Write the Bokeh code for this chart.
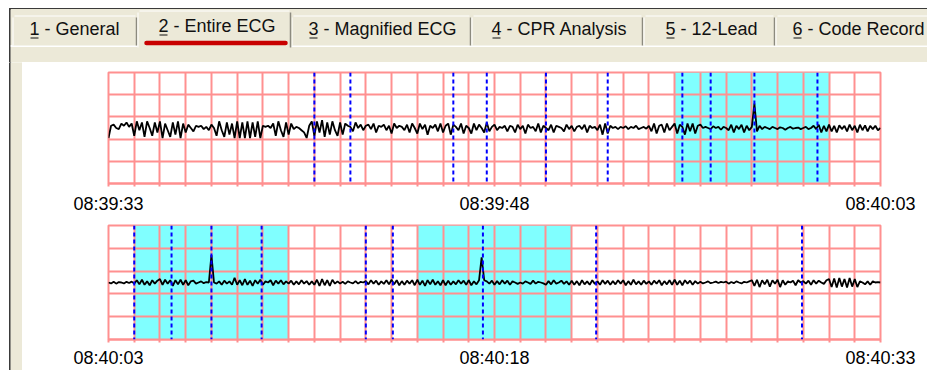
import numpy as np
from bokeh.plotting import figure
from bokeh.models import Range1d, FixedTicker, Span
from bokeh.layouts import column, row
from bokeh.embed import file_html
from bokeh.resources import INLINE
from bokeh.core.properties import value

# ---------------- data ----------------
tab_labels = ["1 - General", "2 - Entire ECG", "3 - Magnified ECG",
              "4 - CPR Analysis", "5 - 12-Lead", "6 - Code Record"]
active_tab = 1

tick_seconds = [0, 15, 30]
top_tick_labels = ["08:39:33", "08:39:48", "08:40:03"]
bottom_tick_labels = ["08:40:03", "08:40:18", "08:40:33"]
segment_seconds = 30
sample_rate = 10  # samples per second in the lists below

top_highlight_start = [22]
top_highlight_end = [28]
top_markers = [8.0, 9.4, 13.4, 14.7, 17.0, 19.4, 22.3, 23.4, 25.1, 27.55]

bottom_highlight_start = [1, 12]
bottom_highlight_end = [7, 18]
bottom_markers = [1.0, 2.45, 4.0, 5.95, 10.0, 11.05, 14.55, 18.95, 26.95]

top_ecg = [
    -0.45, 0.1, 0.15, 0.0, -0.05, 0.2, 0.1, 0.25, 0.05, 0.2,
    -0.35, 0.3, -0.1, 0.25, -0.4, 0.3, 0.0, -0.35, 0.25, -0.2,
    0.3, -0.45, 0.2, -0.1, -0.4, 0.25, -0.3, 0.3, -0.45, 0.2,
    -0.2, 0.15, 0.0, -0.15, 0.1, 0.05, 0.1, -0.05, 0.05, -0.1,
    0.15, 0.0, -0.35, 0.3, -0.1, -0.4, 0.25, -0.3, 0.2, -0.45,
    0.3, -0.45, 0.25, -0.45, 0.3, -0.45, 0.25, -0.4, 0.3, -0.45,
    0.1, 0.05, 0.1, 0.0, 0.2, -0.35, 0.3, -0.1, -0.4, 0.25,
    -0.3, 0.2, -0.05, 0.05, 0.0, -0.1, -0.2, -0.45, 0.1, 0.3,
    -0.35, 0.3, -0.2, 0.35, -0.4, 0.25, -0.3, 0.3, -0.1, -0.35,
    0.25, -0.3, 0.2, 0.1, 0.05, -0.15, 0.25, 0.0, 0.15, -0.1,
    0.1, 0.15, -0.05, 0.2, -0.2, 0.1, 0.05, 0.15, -0.1, 0.1,
    -0.25, 0.2, 0.0, 0.1, 0.05, -0.1, 0.15, -0.2, 0.2, 0.0,
    -0.25, 0.2, -0.05, 0.15, -0.3, 0.1, 0.0, 0.15, -0.15, 0.2,
    -0.2, 0.1, 0.2, -0.3, 0.15, 0.05, -0.1, 0.2, -0.25, 0.1,
    0.0, -0.25, 0.2, -0.1, 0.15, 0.0, -0.2, 0.25, -0.15, 0.05,
    0.15, -0.1, 0.05, 0.0, 0.1, -0.15, 0.1, 0.05, -0.2, 0.15,
    -0.05, 0.1, -0.25, 0.15, 0.0, 0.05, -0.15, 0.2, -0.2, 0.1,
    0.0, -0.1, 0.15, -0.2, 0.1, 0.05, 0.0, -0.15, 0.15, -0.05,
    0.1, -0.15, 0.05, 0.1, -0.05, 0.15, -0.2, 0.1, 0.0, 0.05,
    -0.1, 0.15, -0.3, 0.2, -0.25, 0.1, 0.0, 0.05, -0.05, 0.05,
    0.0, 0.08, -0.05, 0.05, 0.0, 0.1, -0.05, 0.0, 0.05, -0.03,
    0.1, -0.15, 0.2, -0.25, 0.1, 0.15, -0.2, 0.2, -0.1, 0.05,
    0.2, -0.25, 0.15, 0.05, -0.3, 0.2, -0.15, 0.2, -0.25, 0.1,
    0.15, 0.0, 0.05, 0.0, -0.05, 0.08, 0.0, 0.05, -0.08, 0.05,
    0.0, -0.1, 0.15, -0.2, 0.1, -0.05, 0.15, -0.2, 0.1, -0.1,
    0.05, 1.1, -0.15, 0.1, -0.05, 0.05, 0.0, -0.05, 0.05, 0.0,
    -0.05, 0.03, 0.0, -0.08, 0.0, 0.05, -0.03, 0.0, 0.02, -0.05,
    0.0, 0.05, -0.05, 0.0, 0.1, -0.05, 0.15, -0.2, 0.1, -0.15,
    0.15, -0.15, 0.1, -0.2, 0.12, -0.05, 0.1, -0.15, 0.15, -0.1,
    0.1, -0.2, 0.15, -0.1, 0.12, -0.15, 0.1, -0.05, 0.1, -0.1,
    0.0,
]

bottom_ecg = [
    0.0, -0.04, 0.03, -0.05, 0.02, 0.0, -0.04, 0.03, -0.02, 0.04,
    -0.05, 0.1, -0.08, 0.12, -0.1, 0.05, -0.12, 0.1, -0.05, 0.08,
    0.15, -0.1, 0.12, -0.05, 0.1, -0.15, 0.1, -0.08, 0.12, -0.1,
    0.1, -0.12, 0.05, 0.08, -0.05, 0.0, 0.05, -0.03, 0.02, 0.0,
    1.2, 0.0, -0.05, 0.05, -0.1, 0.08, -0.05, 0.05, -0.1, 0.2,
    -0.1, 0.1, -0.12, 0.15, -0.1, 0.08, -0.15, 0.1, -0.05, 0.12,
    -0.1, 0.05, 0.0, 0.1, -0.12, 0.08, -0.05, 0.1, -0.08, 0.05,
    -0.05, 0.08, -0.1, 0.05, -0.08, 0.1, -0.05, 0.06, -0.1, 0.05,
    -0.1, 0.12, -0.15, 0.15, -0.12, 0.1, -0.15, 0.12, -0.05, 0.05,
    -0.05, 0.03, -0.06, 0.05, 0.0, -0.04, 0.06, -0.05, 0.03, 0.0,
    0.06, -0.08, 0.1, -0.05, 0.08, -0.1, 0.05, -0.06, 0.1, -0.08,
    0.12, -0.08, 0.1, -0.12, 0.06, -0.1, 0.08, -0.05, 0.1, -0.12,
    0.12, -0.1, 0.08, -0.15, 0.1, -0.08, 0.12, -0.1, 0.05, -0.12,
    0.1, -0.12, 0.08, -0.1, 0.05, -0.08, 0.1, -0.05, 0.08, -0.1,
    0.1, -0.12, 0.05, -0.08, 0.1, 1.1, 0.1, 0.05, -0.05, 0.08,
    -0.1, 0.06, -0.08, 0.1, -0.05, 0.08, -0.1, 0.05, 0.0, -0.06,
    0.0, -0.05, 0.05, 0.0, -0.06, 0.08, -0.05, 0.03, 0.0, -0.04,
    -0.1, 0.06, -0.08, 0.1, -0.05, 0.0, 0.08, -0.06, 0.05, -0.1,
    0.08, -0.1, 0.06, -0.12, 0.1, -0.08, 0.05, -0.1, 0.1, -0.06,
    0.05, -0.1, 0.1, -0.06, 0.08, -0.1, 0.06, -0.08, 0.1, -0.05,
    0.1, -0.12, 0.06, -0.1, 0.12, -0.08, 0.05, -0.1, 0.08, -0.06,
    0.05, -0.1, 0.08, -0.05, 0.1, -0.12, 0.06, -0.08, 0.1, -0.1,
    0.12, -0.1, 0.08, -0.12, 0.1, -0.05, 0.08, -0.1, 0.06, -0.05,
    0.03, -0.04, 0.0, 0.05, -0.03, 0.0, 0.04, -0.02, 0.03, 0.0,
    0.04, -0.05, 0.02, -0.03, 0.05, 0.0, -0.04, 0.03, 0.0, 0.05,
    0.1, -0.15, 0.12, -0.2, 0.1, -0.08, 0.12, -0.18, 0.1, -0.05,
    0.12, -0.2, 0.1, -0.1, 0.05, 0.0, 0.08, -0.12, 0.1, 0.0,
    0.06, -0.05, 0.08, -0.1, 0.1, -0.05, 0.08, 0.0, -0.06, 0.1,
    0.15, -0.2, 0.18, -0.22, 0.2, -0.18, 0.15, -0.22, 0.2, -0.18,
    0.15, -0.2, 0.05, 0.0, -0.08, 0.05, -0.1, 0.05, 0.0, 0.02,
    0.0,
]

# ---------------- style ----------------
TAB_BG = "#ece9d8"
GRID = "#ff9090"
CYAN = "#80ffff"
MARK = "#0000ff"
EDGE = "#3a3a3a"
FONT = value("Liberation Sans")
W, H = 927, 370
TAB_H = 62
STRIP_W = 22

# ---------------- tab bar (page pixel coordinates) ----------------
tab_left = [12, 137, 291, 471, 643, 775]
tab_right = [137, 291, 471, 643, 775, 960]
text_left = [29, 158, 308, 491, 665, 792]

pa = figure(width=W, height=TAB_H, x_range=Range1d(0, W), y_range=Range1d(TAB_H, 0),
            x_axis_type=None, y_axis_type=None, toolbar_location=None,
            output_backend="svg", min_border=0, outline_line_color=None,
            background_fill_color="white", border_fill_color="white")
pa.grid.visible = False
pa.quad(left=[9], right=[W], top=[8], bottom=[9], color=EDGE)
pa.quad(left=[9], right=[10.5], top=[8], bottom=[TAB_H], color=EDGE)
pa.quad(left=[10.5], right=[W], top=[9], bottom=[TAB_H], color=TAB_BG)
pa.quad(left=[10.5], right=[W], top=[45], bottom=[46], color="white")

order = [i for i in range(len(tab_labels)) if i != active_tab] + [active_tab]
for i in order:
    act = i == active_tab
    t = 10 if act else 15
    b = 47 if act else 45
    l, r = tab_left[i], tab_right[i]
    pa.quad(left=[l], right=[r], top=[t], bottom=[b], fill_color=TAB_BG, line_color=None)
    pa.segment(x0=[l + 0.5], y0=[b], x1=[l + 0.5], y1=[t + 2], line_color="white", line_width=1)
    pa.segment(x0=[l + 2], y0=[t + 0.5], x1=[r - 2], y1=[t + 0.5], line_color="white", line_width=1)
    pa.segment(x0=[r - 1], y0=[t + 2], x1=[r - 1], y1=[b], line_color="#8c8a7f", line_width=1.5)

pa.segment(x0=[146], y0=[42.5], x1=[285], y1=[42.5], line_color="#c80000",
           line_width=4.5, line_cap="round")

baselines = [32.5 if i == active_tab else 35.5 for i in range(len(tab_labels))]
pa.text(x=text_left, y=[y - 7 for y in baselines], text=tab_labels, text_font=FONT,
        text_font_size="18px", text_baseline="alphabetic", text_align="left",
        text_color="#111111")
pa.segment(x0=[x + 1 for x in text_left], y0=[y + 2 for y in baselines],
           x1=[x + 9 for x in text_left], y1=[y + 2 for y in baselines],
           line_color="#111111", line_width=1)

# ---------------- left frame strip ----------------
ps = figure(width=STRIP_W, height=H - TAB_H, x_range=Range1d(0, STRIP_W),
            y_range=Range1d(0, 1), x_axis_type=None, y_axis_type=None,
            toolbar_location=None, output_backend="svg", min_border=0,
            outline_line_color=None, background_fill_color="white",
            border_fill_color="white")
ps.grid.visible = False
ps.quad(left=[9], right=[10.5], top=[1], bottom=[0], color=EDGE)
ps.quad(left=[10.5], right=[STRIP_W], top=[1], bottom=[0], color=TAB_BG)


# ---------------- ECG panels ----------------
def ecg_panel(values, hl_start, hl_end, markers, labels, height, border_top,
              border_bottom, standoff):
    p = figure(width=W - STRIP_W, height=height, x_range=Range1d(0, segment_seconds),
               y_range=Range1d(-2.5, 2.5), toolbar_location=None, output_backend="svg",
               min_border_left=86, min_border_right=47, min_border_top=border_top,
               min_border_bottom=border_bottom, outline_line_color=GRID,
               outline_line_width=2, background_fill_color="white",
               border_fill_color="white")
    p.yaxis.visible = False
    p.xgrid.ticker = FixedTicker(ticks=list(range(segment_seconds + 1)))
    p.ygrid.ticker = FixedTicker(ticks=[-2.5, -1.5, -0.5, 0.5, 1.5, 2.5])
    p.grid.grid_line_color = GRID
    p.grid.grid_line_width = 2

    p.quad(left=hl_start, right=hl_end, bottom=-2.5, top=2.5, fill_color=CYAN,
           line_color=None, level="image")

    t = np.arange(len(values)) / sample_rate
    p.line(t, values, line_color="black", line_width=1.8)

    for m in markers:
        p.add_layout(Span(location=m, dimension="height", line_color=MARK,
                          line_width=2, line_dash="4 3"))

    ax = p.xaxis[0]
    ax.ticker = FixedTicker(ticks=list(range(segment_seconds + 1)))
    overrides = {i: "" for i in range(segment_seconds + 1)}
    for s, lab in zip(tick_seconds, labels):
        overrides[s] = lab
    ax.major_label_overrides = overrides
    ax.axis_line_color = GRID
    ax.axis_line_width = 2
    ax.major_tick_line_color = GRID
    ax.major_tick_line_width = 2
    ax.major_tick_in = 0
    ax.major_tick_out = 3
    ax.minor_tick_line_color = None
    ax.major_label_standoff = standoff
    ax.major_label_text_font = "Liberation Sans"
    ax.major_label_text_font_size = "18px"
    ax.major_label_text_color = "#000000"
    return p


pb = ecg_panel(top_ecg, top_highlight_start, top_highlight_end, top_markers,
               top_tick_labels, 154, 10, 30, 7)
pc = ecg_panel(bottom_ecg, bottom_highlight_start, bottom_highlight_end,
               bottom_markers, bottom_tick_labels, 154, 9, 30, 5)

layout = column(pa, row(ps, column(pb, pc)))
open("out.html", "w").write(file_html(layout, INLINE))
